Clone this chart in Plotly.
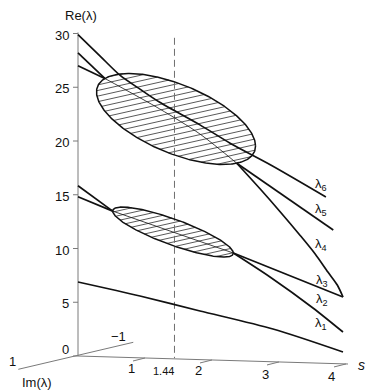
import numpy as np
import plotly.graph_objects as go

# ---- data (s, Re(lambda)) ----
lam6_s = [0.00, 0.33, 0.63, 0.93, 1.22, 1.82, 2.27, 2.87, 3.70]
lam6_re = [29.9, 27.9, 26.1, 24.8, 23.6, 21.5, 19.8, 17.8, 14.8]

lam5_left_s = [0.00, 0.40]
lam5_left_re = [28.2, 25.82]
lam4_left_s = [0.00, 0.40]
lam4_left_re = [27.0, 25.82]
pair_upper_s = [0.40, 1.22, 1.82, 2.37]
pair_upper_re = [25.82, 22.98, 20.65, 17.93]
lam5_right_s = [2.37, 3.81]
lam5_right_re = [17.93, 11.72]
lam4_right_s = [2.37, 2.72, 3.02, 3.31, 3.54, 3.73, 3.87, 3.955]
lam4_right_re = [17.93, 15.53, 13.40, 11.26, 9.49, 7.81, 6.60, 5.49]

lam3_left_s = [0.00, 0.518]
lam3_left_re = [15.84, 13.48]
lam2_left_s = [0.00, 0.518]
lam2_left_re = [14.82, 13.48]
pair_lower_s = [0.518, 2.318]
pair_lower_re = [13.48, 9.58]
lam3_right_s = [2.318, 3.955]
lam3_right_re = [9.58, 5.49]
lam2_right_s = [2.318, 2.866, 3.507, 3.955]
lam2_right_re = [9.58, 7.35, 4.47, 2.23]
lam1_s = [0.00, 0.925, 1.821, 2.910, 3.955]
lam1_re = [6.88, 5.58, 4.19, 2.51, 0.37]

# complex-pair loops: centre s, centre Re, half width (s), half height (Re), phase (deg)
loop_big = (1.463, 22.05, 1.187, 4.233, 53.6)
loop_small = (1.418, 11.53, 0.900, 2.326, 33.0)

s_marked = 1.44
re_ticks = [0, 5, 10, 15, 20, 25, 30]
s_ticks = [1, 2, 3, 4]

FONT = "Liberation Sans, Arial, sans-serif"
BLACK = "#111111"
AXIS = "#7a7a7a"

# scale of the reference: 67 px per s unit, 10.75 px per Re unit
PX_S = 1 / 67.0
PX_R = 1 / 10.75


def loop_xy(loop, n=361):
    cs, cr, ws, hr, ph = loop
    t = np.linspace(0, 2 * np.pi, n)
    return cs + ws * np.cos(t), cr - hr * np.cos(t - np.radians(ph))


def hatch_xy(loop, step, slope):
    cs, cr, ws, hr, ph = loop
    d = np.radians(ph)
    es, er = loop_xy(loop, 721)
    k = er - slope * es
    sd2 = np.sin(d) ** 2
    a1, b1 = 1 / ws, -cs / ws
    xs, ys = [], []
    for c in np.arange(k.min() + step * 0.6, k.max(), step):
        a2, b2 = -slope / hr, (cr - c) / hr
        a3, b3 = a2 - a1 * np.cos(d), b2 - b1 * np.cos(d)
        A = a1 ** 2 * sd2 + a3 ** 2
        B = 2 * (a1 * b1 * sd2 + a3 * b3)
        C = b1 ** 2 * sd2 + b3 ** 2 - sd2
        disc = B * B - 4 * A * C
        if disc <= 0:
            continue
        r1 = (-B - np.sqrt(disc)) / (2 * A)
        r2 = (-B + np.sqrt(disc)) / (2 * A)
        xs += [r1, r2, None]
        ys += [slope * r1 + c, slope * r2 + c, None]
    return xs, ys


fig = go.Figure()


def line(x, y, color=BLACK, width=1.7, dash=None, shape="linear"):
    fig.add_trace(go.Scatter(x=x, y=y, mode="lines", hoverinfo="skip",
                             line=dict(color=color, width=width, dash=dash, shape=shape,
                                       smoothing=0.8 if shape == "spline" else None)))


# hatching inside the loops
for loop, step in [(loop_big, 0.52), (loop_small, 0.45)]:
    hx, hy = hatch_xy(loop, step, 1.4)
    line(hx, hy, color="#222222", width=0.75)

# axes
line([0, 0], [0, 30.1], color=AXIS, width=1)
for r in re_ticks:
    line([-5 * PX_S, 0], [r, r], color=AXIS, width=1)
s_end = 4.03
line([0, s_end], [0, -8 * PX_R * s_end / 4.03], color=AXIS, width=1)
for s in s_ticks:
    base = -8 * PX_R * s / 4.03
    line([s, s - 12 * PX_S], [base, base - 3 * PX_R], color=AXIS, width=1)
line([-0.891, 0.825], [-1.237, 1.274], color=AXIS, width=1)

# marked s value
line([s_marked, s_marked], [29.6, -0.2], color="#6f6f6f", width=1, dash="7px,4px")

# loop outlines
for loop in [loop_big, loop_small]:
    ex, ey = loop_xy(loop)
    line(ex, ey, width=1.5)

# thin Re of complex pairs
line(pair_upper_s, pair_upper_re, width=0.8, shape="spline")
line(pair_lower_s, pair_lower_re, width=0.8)

# eigenvalue branches
line(lam6_s, lam6_re, shape="spline")
line(lam5_left_s, lam5_left_re)
line(lam4_left_s, lam4_left_re)
line(lam5_right_s, lam5_right_re)
line(lam4_right_s, lam4_right_re, shape="spline")
line(lam3_left_s, lam3_left_re)
line(lam2_left_s, lam2_left_re)
line(lam3_right_s, lam3_right_re)
line(lam2_right_s, lam2_right_re, shape="spline")
line(lam1_s, lam1_re, shape="spline")

ann = []


def text(x, y, t, size=13, xanchor="center", yshift=0, italic=False):
    ann.append(dict(x=x, y=y, xref="x", yref="y", text=f"<i>{t}</i>" if italic else t,
                    showarrow=False, xanchor=xanchor, yanchor="middle", yshift=yshift,
                    font=dict(family=FONT, size=size, color=BLACK)))


text(0.045, 31.72, "Re(λ)")
for r in re_ticks:
    text(-0.112, r if r else 0.72, str(r), xanchor="right", yshift=-1.5)
text(0.801, -1.144, "1")
text(1.273, -1.367, "1.44", size=11)
text(1.796, -1.302, "2")
text(2.791, -1.674, "3")
text(3.787, -1.926, "4")
text(4.234, -0.837, "s", size=14, italic=True)
text(-0.975, -0.53, "1")
text(0.597, 1.86, "−1")
text(-0.616, -2.42, "Im(λ)")

lam_labels = [(3.627, 16.0, "6"), (3.627, 13.67, "5"), (3.627, 10.33, "4"),
              (3.642, 7.07, "3"), (3.642, 5.21, "2"), (3.627, 2.98, "1")]
for x, y, k in lam_labels:
    text(x, y, f"λ<sub>{k}</sub>")

fig.update_layout(
    width=369, height=392, autosize=False,
    margin=dict(l=0, r=0, t=0, b=0),
    paper_bgcolor="white", plot_bgcolor="white",
    showlegend=False,
    xaxis=dict(visible=False, range=[-78 * PX_S, (369 - 78) * PX_S], fixedrange=True),
    yaxis=dict(visible=False, range=[(356 - 392) * PX_R, 356 * PX_R], fixedrange=True),
    annotations=ann,
)

# drop the default page margin so the figure fills the window exactly
fig.write_html("out.html", config={"displayModeBar": False},
               post_script="document.body.style.margin='0';"
                           "document.body.style.overflow='hidden';")
